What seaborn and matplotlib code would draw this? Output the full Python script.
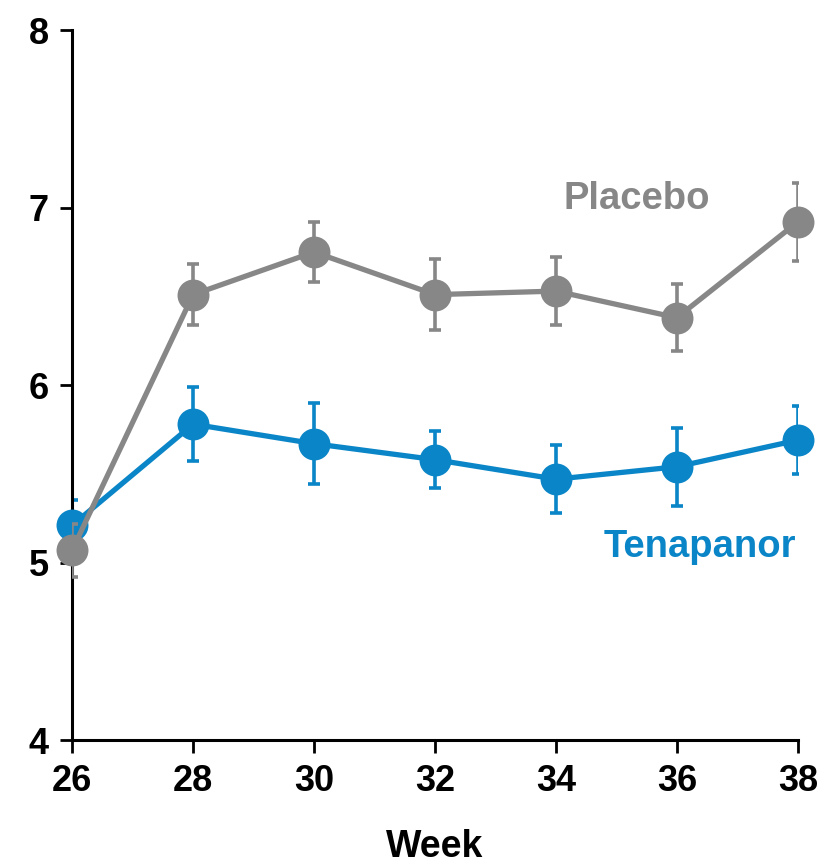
import matplotlib
matplotlib.use('Agg')
import matplotlib.pyplot as plt
import seaborn as sns
import pandas as pd

# ==============================================================
# Data
# ==============================================================
weeks = [26, 28, 30, 32, 34, 36, 38]
placebo = [5.07, 6.51, 6.75, 6.51, 6.53, 6.38, 6.92]
placebo_err = [0.15, 0.17, 0.17, 0.20, 0.19, 0.19, 0.22]
tenapanor = [5.21, 5.78, 5.67, 5.58, 5.47, 5.54, 5.69]
tenapanor_err = [0.14, 0.21, 0.23, 0.16, 0.19, 0.22, 0.19]

sns.set_style('white')
plt.rcParams['font.family'] = ['Liberation Sans', 'DejaVu Sans']
plt.rcParams['font.weight'] = 'bold'

BLUE = '#0a85c7'
GRAY = '#878787'

fig = plt.figure(figsize=(8.2, 8.64), dpi=100)
ax = fig.add_axes([0.088, 0.1435, 0.885, 0.8215])

series = [('Tenapanor', tenapanor, tenapanor_err, BLUE, 2),
          ('Placebo', placebo, placebo_err, GRAY, 4)]

for name, vals, errs, color, z in series:
    df = pd.DataFrame({'week': weeks, 'value': vals})
    ax.errorbar(weeks, vals, yerr=errs, fmt='none', ecolor=color,
                elinewidth=2.6, capsize=4.5, capthick=2.6, zorder=z)
    sns.lineplot(data=df, x='week', y='value', ax=ax, color=color,
                 linewidth=3.8, marker='o', markersize=23,
                 markeredgewidth=0, zorder=z + 1, clip_on=False)

ax.text(35.34, 7.05, 'Placebo', color=GRAY, fontsize=27.5, fontweight='bold',
        ha='center', va='center')
ax.text(36.38, 5.09, 'Tenapanor', color=BLUE, fontsize=27.5, fontweight='bold',
        ha='center', va='center')

ax.set_xlim(26, 38)
ax.set_ylim(4, 8)
ax.set_xticks(weeks)
ax.set_yticks([4, 5, 6, 7, 8])
ax.set_xlabel('Week', fontsize=27, fontweight='bold', labelpad=22, color='black')
ax.set_ylabel('')
ax.tick_params(axis='both', labelsize=26, direction='out', length=9,
               width=2, colors='black', pad=8, left=True, bottom=True)
for lbl in ax.get_xticklabels() + ax.get_yticklabels():
    lbl.set_fontweight('bold')

sns.despine(ax=ax)
for side in ['left', 'bottom']:
    ax.spines[side].set_linewidth(2.2)
    ax.spines[side].set_color('black')

fig.savefig('out.png', dpi=100)
